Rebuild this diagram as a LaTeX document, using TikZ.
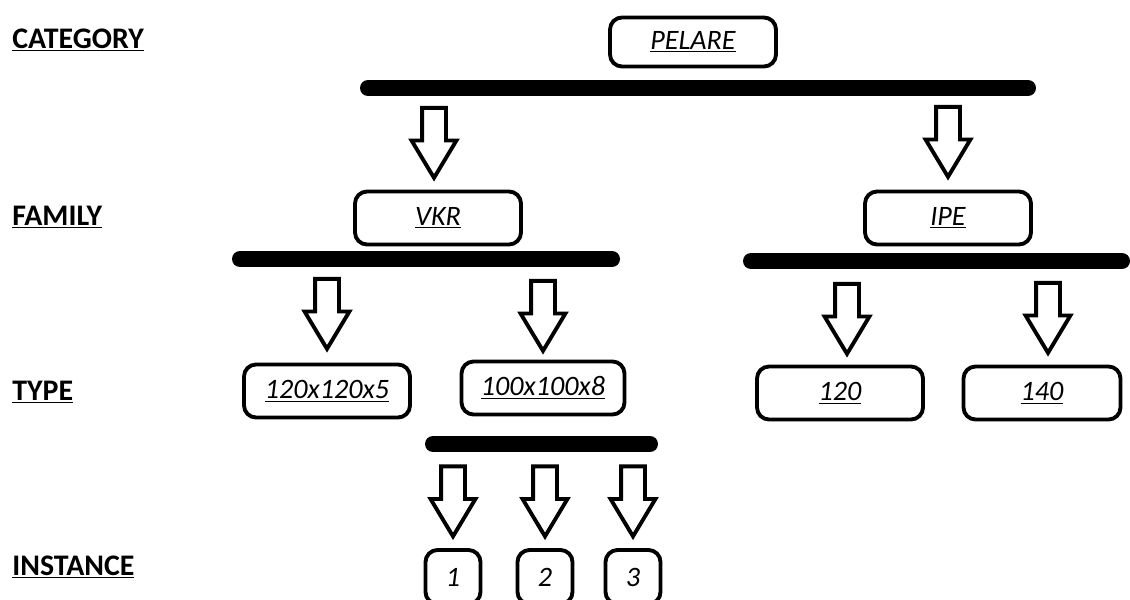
\documentclass[tikz,border=0pt]{standalone}
\usepackage{fontspec}
\setmainfont{Carlito}
\usetikzlibrary{shapes,arrows,positioning}

\begin{document}
\begin{tikzpicture}[x=0.02cm, y=-0.02cm]
    % Define styles
    \tikzstyle{level} = [font=\fontsize{17}{20}\selectfont\bfseries, anchor=base west, inner sep=0pt]
    \tikzstyle{item} = [rectangle, rounded corners=0.24cm, minimum width=3.32cm, minimum height=1.06cm, text centered, draw=black, line width=2.2pt, font=\fontsize{16}{19}\selectfont\itshape]
    \tikzstyle{inst} = [item, minimum width=1.1cm, minimum height=1.08cm]
    \tikzstyle{bar} = [line width=0.32cm, line cap=round]
    \tikzstyle{down} = [single arrow, shape border rotate=270, draw=black, line width=2.2pt, inner sep=0.2cm, minimum width=0.86cm, minimum height=1.4cm, single arrow head extend=0.21cm, single arrow tip angle=62, anchor=tip]

    \useasboundingbox (0,0) rectangle (1130,599);
    \clip (0,0) rectangle (1130,599);

    % Levels
    \node [level] (category) at (12,48) {\underline{CATEGORY}};
    \node [level] (family) at (12,225) {\underline{FAMILY}};
    \node [level] (type) at (12,400) {\underline{TYPE}};
    \node [level] (instance) at (12,575) {\underline{INSTANCE}};

    % Nodes
    \node [item, minimum height=0.98cm] (pelare) at (693,42) {\underline{PELARE}};
    \node [item] (vkr) at (438,218) {\underline{VKR}};
    \node [item] (ipe) at (948,218) {\underline{IPE}};
    \node [item] (vkr120) at (327,391) {\underline{120x120x5}};
    \node [item, minimum width=3.26cm] (vkr100) at (543,388) {\underline{100x100x8}};
    \node [item] (ipe120) at (840,393) {\underline{120}};
    \node [item, minimum width=3.14cm] (ipe140) at (1042,393) {\underline{140}};
    \node [inst] (one) at (453,577) {1};
    \node [inst] (two) at (545,577) {2};
    \node [inst] (three) at (633,577) {3};

    % Bars
    \draw [bar] (368,88) -- (1028,88);
    \draw [bar] (240,259) -- (612,259);
    \draw [bar] (751,261) -- (1122,261);
    \draw [bar] (433,444) -- (650,444);

    % Arrows
    \node [down] (tovkr) at ([xshift=-0.08cm, yshift=0.16cm]vkr.north) {};
    \node [down] (toipe) at ([yshift=0.18cm]ipe.north) {};
    \node [down] (tovkr120) at ([yshift=0.2cm]vkr120.north) {};
    \node [down] (tovkr100) at ([yshift=0.1cm]vkr100.north) {};
    \node [down] (toipe120) at ([xshift=0.14cm, yshift=0.14cm]ipe120.north) {};
    \node [down] (toipe140) at ([xshift=0.12cm, yshift=0.16cm]ipe140.north) {};
    \node [down] (toone) at ([yshift=0.16cm]one.north) {};
    \node [down] (totwo) at ([yshift=0.16cm]two.north) {};
    \node [down] (tothree) at ([yshift=0.16cm]three.north) {};
\end{tikzpicture}
\end{document}
